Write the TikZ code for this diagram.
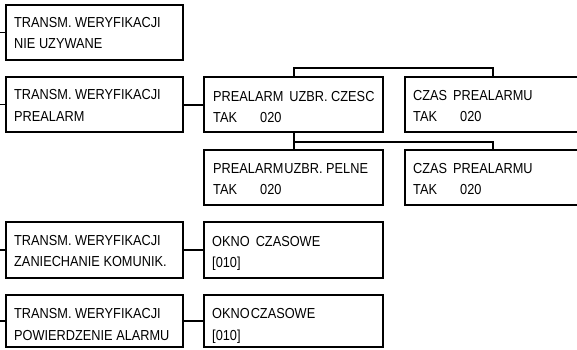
\documentclass[tikz,border=0pt]{standalone}
\usepackage{fontspec}
\setmainfont{Liberation Sans}[FakeStretch=0.88]
\begin{document}
\begin{tikzpicture}[x=1pt,y=-1pt,
  box/.style={draw,line width=2.5pt,fill=white,inner sep=0pt,outer sep=0pt,anchor=north west},
  conn/.style={line width=2pt},
  stub/.style={line width=1.5pt},
  lbl/.style={font=\fontsize{14.5}{16}\selectfont,inner sep=0pt,anchor=base west}]
\clip (0,0) rectangle (577,349);
% boxes
\node[box,minimum width=177pt,minimum height=55pt] (b1) at (6,5) {};
\node[box,minimum width=177pt,minimum height=55pt] (b2) at (6,77) {};
\node[box,minimum width=179pt,minimum height=55pt] (b3) at (204,77) {};
\node[box,minimum width=185pt,minimum height=55pt] (b4) at (405,77) {};
\node[box,minimum width=179pt,minimum height=55pt] (b5) at (204,150) {};
\node[box,minimum width=185pt,minimum height=55pt] (b6) at (405,150) {};
\node[box,minimum width=177pt,minimum height=56pt] (b7) at (6,222) {};
\node[box,minimum width=179pt,minimum height=56pt] (b8) at (204,222) {};
\node[box,minimum width=177pt,minimum height=52pt] (b9) at (6,295) {};
\node[box,minimum width=179pt,minimum height=52pt] (b10) at (204,295) {};
% stubs on the left
\coordinate (s1) at (0,32.5);
\coordinate (s2) at (0,104.5);
\coordinate (s7) at (0,250);
\coordinate (s9) at (0,321);
\draw[stub] (s1) -- (b1.west);
\draw[stub] (s2) -- (b2.west);
\draw[stub] (s7) -- (b7.west);
\draw[stub] (s9) -- (b9.west);
% horizontal connectors
\draw[conn] (b2.east) -- (b3.west);
\draw[conn] (b7.east) -- (b8.west);
\draw[conn] (b9.east) -- (b10.west);
% tree
\coordinate (j1) at (294,68);
\coordinate (j2) at (493,68);
\coordinate (k1) at (294,142);
\coordinate (k2) at (493,142);
\draw[conn] (j1 |- b3.north) -- (j1) -- (j2) -- (j2 |- b4.north);
\draw[conn] (k1 |- b3.south) -- (k1 |- b5.north);
\draw[conn] (k1) -- (k2) -- (k2 |- b6.north);
% texts
\node[lbl] (t1a) at (14,27) {TRANSM. WERYFIKACJI};
\node[lbl] (t1b) at (14,48) {NIE UZYWANE};
\node[lbl] (t2a) at (14,99.5) {TRANSM. WERYFIKACJI};
\node[lbl] (t2b) at (14,121) {PREALARM};
\node[lbl] (t3a) at (213,101) {PREALARM\hspace{6pt}UZBR. CZESC};
\node[lbl] (t3b) at (213,122) {TAK};
\node[lbl] (t3c) at (260,122) {020};
\node[lbl] (t4a) at (413,100) {CZAS\hspace{6pt}PREALARMU};
\node[lbl] (t4b) at (413,121) {TAK};
\node[lbl] (t4c) at (460,121) {020};
\node[lbl] (t5a) at (213,173) {PREALARM\hspace{1pt}UZBR. PELNE};
\node[lbl] (t5b) at (213,194) {TAK};
\node[lbl] (t5c) at (260,194) {020};
\node[lbl] (t6a) at (413,173) {CZAS\hspace{6pt}PREALARMU};
\node[lbl] (t6b) at (413,194) {TAK};
\node[lbl] (t6c) at (460,194) {020};
\node[lbl] (t7a) at (14,245) {TRANSM. WERYFIKACJI};
\node[lbl] (t7b) at (14,266.5) {ZANIECHANIE KOMUNIK.};
\node[lbl] (t8a) at (212,246) {OKNO\hspace{6pt}CZASOWE};
\node[lbl] (t8b) at (212,267) {[010]};
\node[lbl] (t9a) at (14,318) {TRANSM. WERYFIKACJI};
\node[lbl] (t9b) at (14,340) {POWIERDZENIE ALARMU};
\node[lbl] (t10a) at (212,318.5) {OKNO\hspace{1pt}CZASOWE};
\node[lbl] (t10b) at (212,340) {[010]};
\end{tikzpicture}
\end{document}
